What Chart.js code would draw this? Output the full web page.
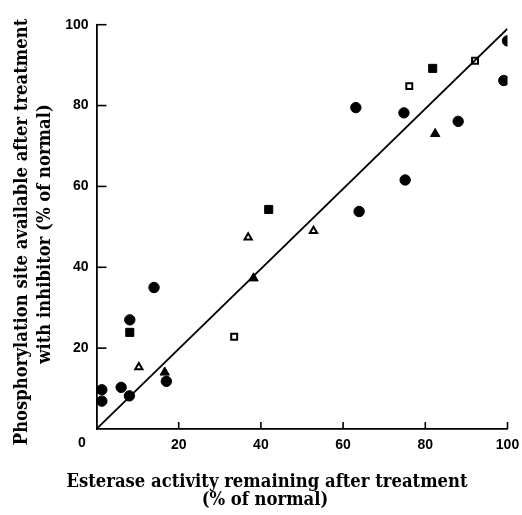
<!DOCTYPE html>
<html><head><meta charset="utf-8">
<script src="https://cdn.jsdelivr.net/npm/chart.js@4/dist/chart.umd.min.js"></script>
<style>html,body{margin:0;padding:0;background:#fff}#wrap{width:522px;height:515px}</style>
</head><body><div id="wrap"><canvas id="c"></canvas></div>
<script>
const filledCircles = [
  {x:14.0,y:35.0},{x:8.1,y:27.0},{x:17.0,y:11.8},{x:1.3,y:9.7},{x:1.3,y:6.9},
  {x:6.0,y:10.3},{x:8.0,y:8.2},{x:100.0,y:96.0},{x:99.1,y:86.2},{x:63.1,y:79.5},
  {x:74.8,y:78.2},{x:88.0,y:76.1},{x:75.1,y:61.6},{x:63.9,y:53.8}
];
const filledSquares = [{x:8.1,y:23.9},{x:41.9,y:54.3},{x:81.8,y:89.2}];
const openSquares = [{x:33.5,y:22.8},{x:76.1,y:84.8},{x:92.1,y:91.1}];
const filledTriangles = [{x:16.6,y:14.0},{x:38.2,y:37.3},{x:82.4,y:73.0}];
const openTriangles = [{x:10.3,y:15.3},{x:36.9,y:47.4},{x:52.8,y:49.0}];
const fitLine = [{x:0,y:0},{x:100,y:99}];
const tickValues = [0,20,40,60,80,100];
const xTitle = ['Esterase activity remaining after treatment','(% of normal)'];
const yTitle = ['Phosphorylation site available after treatment','with inhibitor (% of normal)'];

const TITLE_FONT = 'bold 18.3px "DejaVu Serif Condensed", "DejaVu Serif", serif';
const TICK_FONT = {family:'"Liberation Sans", Arial, sans-serif', size:14, weight:'bold'};

const decor = {
  id:'decor',
  afterDraw(chart){
    const c = chart.ctx, xs = chart.scales.x, ys = chart.scales.y, a = chart.chartArea;
    c.save();
    c.setLineDash([]);
    c.strokeStyle='#000'; c.lineWidth=1.6;
    tickValues.forEach(v=>{ if(v===0) return;
      const px = xs.getPixelForValue(v);
      c.beginPath(); c.moveTo(px,a.bottom); c.lineTo(px,a.bottom-7); c.stroke();
      const py = ys.getPixelForValue(v);
      c.beginPath(); c.moveTo(a.left,py); c.lineTo(a.left+10,py); c.stroke();
    });
    c.fillStyle='#000';
    c.font = 'bold 14px "Liberation Sans", Arial, sans-serif';
    c.textAlign='center'; c.textBaseline='middle';
    c.fillText('0', a.left-14.5, a.bottom+14);
    c.font = TITLE_FONT; c.textBaseline='alphabetic';
    c.fillText(xTitle[0], 267, 486.5);
    c.fillText(xTitle[1], 265, 505);
    c.save(); c.translate(27,232); c.rotate(-Math.PI/2); c.fillText(yTitle[0],0,0); c.restore();
    c.save(); c.translate(50,234); c.rotate(-Math.PI/2); c.fillText(yTitle[1],0,0); c.restore();
    c.restore();
  }
};

new Chart(document.getElementById('c'), {
  type:'scatter',
  data:{datasets:[
    {data:fitLine, type:'line', showLine:true, borderColor:'#000', borderWidth:1.8, pointRadius:0, fill:false, tension:0},
    {data:filledCircles, pointStyle:'circle', pointRadius:5.2, backgroundColor:'#000', borderColor:'#000', borderWidth:1},
    {data:filledSquares, pointStyle:'rect', pointRadius:5.7, backgroundColor:'#000', borderColor:'#000', borderWidth:1},
    {data:openSquares, pointStyle:'rect', pointRadius:4.2, backgroundColor:'#fff', borderColor:'#000', borderWidth:2},
    {data:filledTriangles, pointStyle:'triangle', pointRadius:5.4, backgroundColor:'#000', borderColor:'#000', borderWidth:1},
    {data:openTriangles, pointStyle:'triangle', pointRadius:4.2, backgroundColor:'#fff', borderColor:'#000', borderWidth:2}
  ]},
  options:{
    responsive:true, maintainAspectRatio:false, animation:false,
    layout:{padding:{top:24.7,right:14.5,left:0,bottom:0}},
    plugins:{legend:{display:false}, tooltip:{enabled:false}},
    elements:{point:{hoverRadius:5}},
    scales:{
      x:{type:'linear', min:0, max:100,
        afterFit(s){ s.height = 86; s.paddingRight = 0; s.paddingLeft = 0; },
        afterBuildTicks(s){ s.ticks = tickValues.map(v=>({value:v})); },
        grid:{display:false, drawTicks:false},
        border:{display:true, color:'#000', width:1.8},
        ticks:{color:'#000', font:TICK_FONT, padding:8, maxRotation:0, callback:v=> v===0 ? '' : String(v)}
      },
      y:{type:'linear', min:0, max:100,
        afterFit(s){ s.width = 96.5; s.paddingTop = 0; s.paddingBottom = 0; },
        afterBuildTicks(s){ s.ticks = tickValues.map(v=>({value:v})); },
        grid:{display:false, drawTicks:false},
        border:{display:true, color:'#000', width:1.8},
        ticks:{color:'#000', font:TICK_FONT, padding:8, callback:v=> v===0 ? '' : String(v)}
      }
    }
  },
  plugins:[decor]
});
</script></body></html>
